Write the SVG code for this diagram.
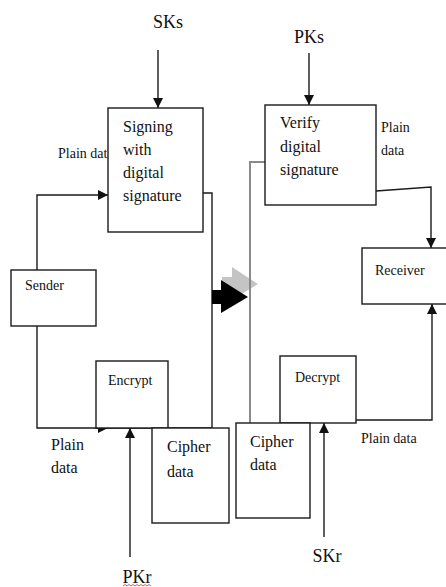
<svg xmlns="http://www.w3.org/2000/svg" width="446" height="587" viewBox="0 0 446 587">
<style>
.box{fill:#fff;stroke:#1a1a1a;stroke-width:1.4}
.ln{fill:none;stroke:#1a1a1a;stroke-width:1.4}
.gl{fill:none;stroke:#8a8a8a;stroke-width:2}
text{font-family:"Liberation Serif","Times New Roman",serif;fill:#111}
.big{font-size:18px}
.md{font-size:16px}
.sm{font-size:14px}
</style>
<defs>
<marker id="ah" viewBox="0 0 10 10" refX="10" refY="5" markerWidth="10" markerHeight="10" markerUnits="userSpaceOnUse" orient="auto">
<path d="M0,0 L10,5 L0,10 z" fill="#111"/>
</marker>
</defs>

<g id="connectors">
<line class="ln" x1="158" y1="50" x2="158" y2="108" marker-end="url(#ah)"/>
<polyline class="ln" points="37,270 37,195 108,195" marker-end="url(#ah)"/>
<polyline class="ln" points="37,326 37,428 108,428" marker-end="url(#ah)"/>
<polyline class="ln" points="203,193 212,193 212,428 96,428"/>
<line class="ln" x1="130" y1="557" x2="130" y2="428" marker-end="url(#ah)"/>
<line class="ln" x1="309" y1="53" x2="309" y2="105" marker-end="url(#ah)"/>
<polyline class="gl" points="265,162 250,162 250,423"/>
<polyline class="ln" points="376,191 431,187 431,248" marker-end="url(#ah)"/>
<polyline class="ln" points="356,420 432,420 432,304" marker-end="url(#ah)"/>
<line class="ln" x1="324" y1="537" x2="324" y2="423" marker-end="url(#ah)"/>
<polygon points="222,277 232,277 232,267 258,284 232,300 232,291 222,291" fill="#c4c4c4"/>
<line class="gl" x1="250" y1="262" x2="250" y2="310"/>
<polygon points="212,290 221,290 221,280 248,297 221,313 221,304 212,304" fill="#000"/>
</g>

<g id="sks"><text class="big" x="168" y="28" text-anchor="middle">SKs</text></g>
<g id="pks"><text class="big" x="309" y="43" text-anchor="middle">PKs</text></g>
<g id="pkr"><text class="big" x="137" y="583" text-anchor="middle">PKr</text>
<path d="M123,586 l2,-1.5 l2,1.5 l2,-1.5 l2,1.5 l2,-1.5 l2,1.5 l2,-1.5 l2,1.5 l2,-1.5 l2,1.5 l2,-1.5 l2,1.5 l2,-1.5 l2,1.5" fill="none" stroke="#e03030" stroke-width="0.8"/></g>
<g id="skr"><text class="big" x="327" y="562" text-anchor="middle">SKr</text></g>

<g id="signing">
<rect class="box" x="108" y="108" width="95" height="124"/>
<text class="md" x="123" y="132">Signing</text>
<text class="md" x="123" y="155">with</text>
<text class="md" x="123" y="178">digital</text>
<text class="md" x="123" y="201">signature</text>
</g>
<text class="sm" x="58" y="158">Plain dat</text>

<g id="sender">
<rect class="box" x="11" y="270" width="85" height="56"/>
<text class="sm" x="25" y="290">Sender</text>
</g>

<g id="encrypt">
<rect class="box" x="96" y="361" width="72" height="67"/>
<text class="sm" x="108" y="385">Encrypt</text>
</g>
<text class="md" x="51" y="450">Plain</text>
<text class="md" x="51" y="473">data</text>

<g id="cipher-left">
<rect class="box" x="152" y="428" width="77" height="95"/>
<text class="md" x="167" y="452">Cipher</text>
<text class="md" x="167" y="477">data</text>
</g>

<g id="verify">
<rect class="box" x="265" y="105" width="111" height="100"/>
<text class="md" x="280" y="128">Verify</text>
<text class="md" x="280" y="152">digital</text>
<text class="md" x="280" y="175">signature</text>
</g>
<text class="sm" x="381" y="132">Plain</text>
<text class="sm" x="381" y="155">data</text>

<g id="receiver">
<rect class="box" x="362" y="248" width="90" height="56"/>
<text class="sm" x="375" y="275">Receiver</text>
</g>

<g id="decrypt">
<rect class="box" x="280" y="356" width="76" height="67"/>
<text class="sm" x="295" y="382">Decrypt</text>
</g>
<text class="sm" x="361" y="443">Plain data</text>

<g id="cipher-right">
<rect class="box" x="236" y="423" width="74" height="95"/>
<text class="md" x="250" y="447">Cipher</text>
<text class="md" x="250" y="470">data</text>
</g>
</svg>
